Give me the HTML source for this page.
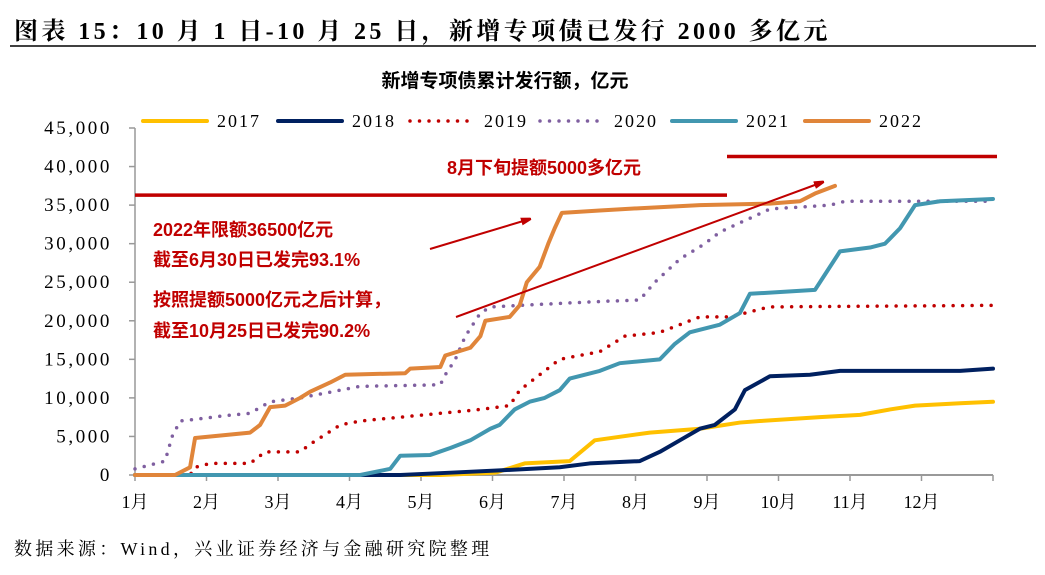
<!DOCTYPE html>
<html><head><meta charset="utf-8"><style>
body{margin:0;background:#fff;}
svg{display:block;font-family:"Liberation Serif","Noto Serif CJK SC",serif;}
</style></head><body>
<svg width="1045" height="575" viewBox="0 0 1045 575">
<text x="14" y="39" font-size="24" font-weight="bold" letter-spacing="3.4" fill="#000">图表 15：10 月 1 日-10 月 25 日，新增专项债已发行 2000 多亿元</text>
<line x1="10" y1="46" x2="1036" y2="46" stroke="#000" stroke-width="1.5"/>
<text x="505" y="87" font-size="19" font-weight="bold" text-anchor="middle" font-family="Liberation Sans,Noto Sans CJK SC,sans-serif">新增专项债累计发行额，亿元</text>
<g id="legend"></g>
<g id="axes"></g>
<g id="refs"></g>
<g id="series"></g>
<text x="14" y="555" font-size="18" letter-spacing="3.3">数据来源：Wind，兴业证券经济与金融研究院整理</text>
</svg>
<script>
const monthLabels=["1月","2月","3月","4月","5月","6月","7月","8月","9月","10月","11月","12月"];
const yTicks=[0,5000,10000,15000,20000,25000,30000,35000,40000,45000];
const seriesNames=["2017","2018","2019","2020","2021","2022"];
const d2017=[[0,0],[4.27,0],[5.04,300],[5.45,1500],[6.08,1800],[6.43,4500],[7.2,5500],[7.9,6000],[8.46,6800],[8.74,7000],[9.58,7500],[10.14,7800],[10.56,8500],[10.91,9000],[11.54,9300],[12,9500]];
const d2018=[[0,0],[3.71,0],[4.41,300],[5.1,600],[5.94,1000],[6.36,1500],[7.06,1800],[7.34,3000],[7.62,4500],[7.9,6000],[8.11,6500],[8.39,8500],[8.53,11000],[8.88,12800],[9.44,13000],[9.86,13500],[11.54,13500],[12,13800]];
const d2019=[[0,0],[0.77,0],[0.84,1000],[1.05,1500],[1.61,1500],[1.82,3000],[2.31,3000],[2.45,4000],[2.87,6500],[3.15,7000],[3.71,7500],[4.27,8000],[4.83,8500],[5.24,9000],[5.38,11000],[5.52,12000],[5.66,13000],[5.94,15000],[6.5,16000],[6.85,18000],[7.34,18500],[7.9,20500],[8.32,20500],[8.74,21500],[8.88,21800],[12,22000]];
const d2020=[[0,800],[0.42,1800],[0.52,5000],[0.63,7000],[0.91,7300],[1.26,7700],[1.61,8000],[1.89,9500],[2.31,10000],[2.59,10500],[2.87,11000],[3.15,11500],[4.27,11700],[4.34,13000],[4.48,15000],[4.62,18000],[4.83,21000],[4.97,21800],[5.38,22000],[6.5,22500],[7.06,22700],[7.27,25000],[7.62,28000],[7.97,30000],[8.18,31500],[8.53,33000],[8.88,34500],[9.72,35000],[9.93,35500],[11.9,35500],[12,36000]];
const d2021=[[0,0],[3.15,0],[3.57,800],[3.71,2500],[4.13,2600],[4.41,3500],[4.69,4500],[4.97,6000],[5.1,6500],[5.31,8500],[5.52,9500],[5.73,10000],[5.94,11000],[6.08,12500],[6.5,13500],[6.78,14500],[7.34,15000],[7.55,17000],[7.76,18500],[8.18,19500],[8.46,21000],[8.6,23500],[9.51,24000],[9.65,26000],[9.86,29000],[10.28,29500],[10.49,30000],[10.7,32000],[10.91,35000],[11.26,35500],[12,35800]];
const d2022=[[0,0],[0.56,0],[0.77,1000],[0.84,4800],[1.61,5500],[1.75,6500],[1.89,8800],[2.1,9000],[2.31,10000],[2.45,10800],[2.73,12000],[2.94,13000],[3.78,13200],[3.85,13800],[4.27,14000],[4.34,15500],[4.69,16500],[4.83,18000],[4.9,20000],[5.24,20500],[5.38,22000],[5.48,25000],[5.66,27000],[5.78,30000],[5.87,32000],[5.97,34000],[6.5,34300],[7.06,34600],[7.9,35000],[8.88,35200],[9.3,35500],[9.51,36500],[9.79,37500]];
const quotaValues=[36300,41300];
const colors=["#ffc000","#002060","#c00000","#7f5fa0","#4297b0","#e0853a"];
const allData=[d2017,d2018,d2019,d2020,d2021,d2022];
const NS="http://www.w3.org/2000/svg";
const X0=135,XW=71.5,Y0=475,YT=128;
const X=m=>X0+m*XW;
const Y=v=>Y0-(v/45000)*(Y0-YT);
function mk(tag,attrs,parent){const e=document.createElementNS(NS,tag);for(const k in attrs)e.setAttribute(k,attrs[k]);parent.appendChild(e);return e;}
const axes=document.getElementById('axes');
const yAxis=mk('line',{x1:X0,y1:YT,x2:X0,y2:Y0,stroke:'#999','stroke-width':1.5},axes);


yTicks.forEach(v=>{
  const t=mk('line',{x1:X0-6,y1:Y(v),x2:X0,y2:Y(v),stroke:'#999','stroke-width':1.5},axes);
  
  
  const l=mk('text',{x:X0-23,y:Y(v)+6,'font-size':19,'letter-spacing':2.6,'text-anchor':'end'},axes);
  
  
  l.textContent=v.toLocaleString('en-US');
});
const xAxis=mk('line',{x1:X0,y1:Y0,x2:X(12),y2:Y0,stroke:'#999','stroke-width':2},axes);


for(let i=0;i<=12;i++){const t=mk('line',{x1:X(i),y1:Y0,x2:X(i),y2:Y0+6,stroke:'#999','stroke-width':1.5},axes);
  
  }
monthLabels.forEach((m,i)=>{const l=mk('text',{x:X(i),y:Y0+33,'font-size':18,'text-anchor':'middle'},axes);
  
  
  l.textContent=m;});
const refs=document.getElementById('refs');
const r1=mk('line',{x1:X0,y1:Y(quotaValues[0]),x2:727,y2:Y(quotaValues[0]),stroke:'#c00000','stroke-width':3.5},refs);


const r2=mk('line',{x1:727,y1:Y(quotaValues[1]),x2:997,y2:Y(quotaValues[1]),stroke:'#c00000','stroke-width':3.5},refs);


const ser=document.getElementById('series');
allData.forEach((d,i)=>{
  const dotted=(i===2||i===3);
  const p=mk('polyline',{points:d.map(q=>X(q[0])+','+Y(q[1])).join(' '),fill:'none',stroke:colors[i],'stroke-width':dotted?3.5:4,'stroke-linejoin':'round','stroke-linecap':'round'},ser);
  if(dotted){p.setAttribute('stroke-dasharray','0 9.5');}
  
  
});
const lg=document.getElementById('legend');
const lx=[143,278,410,540,672,805];
seriesNames.forEach((n,i)=>{
  const dotted=(i===2||i===3);
  const l=mk('line',{x1:lx[i],y1:121,x2:lx[i]+64,y2:121,stroke:colors[i],'stroke-width':dotted?3.5:4,'stroke-linecap':'round'},lg);
  if(dotted)l.setAttribute('stroke-dasharray','0 9.5');
  
  
  const t=mk('text',{x:lx[i]+74,y:127,'font-size':18,'letter-spacing':2},lg);
  
  
  t.textContent=n;
});
</script>
<svg width="1045" height="575" style="position:absolute;left:0;top:0">
<defs><marker id="ah" markerWidth="10" markerHeight="8" refX="9" refY="4" orient="auto" markerUnits="userSpaceOnUse"><path d="M0,0 L14,4 L0,8z" fill="#c00000"/></marker></defs>
<g font-family="Liberation Sans,Noto Sans CJK SC,sans-serif" font-weight="bold" fill="#c00000" font-size="18">
<text x="447" y="174">8月下旬提额5000多亿元</text>
<text x="153" y="236">2022年限额36500亿元</text>
<text x="153" y="266">截至6月30日已发完93.1%</text>
<text x="153" y="306">按照提额5000亿元之后计算，</text>
<text x="153" y="337">截至10月25日已发完90.2%</text>
</g>
<line x1="430" y1="249" x2="530" y2="219" stroke="#c00000" stroke-width="2" marker-end="url(#ah)"/>
<line x1="456" y1="317" x2="823" y2="182" stroke="#c00000" stroke-width="2" marker-end="url(#ah)"/>
</svg>
</body></html>
